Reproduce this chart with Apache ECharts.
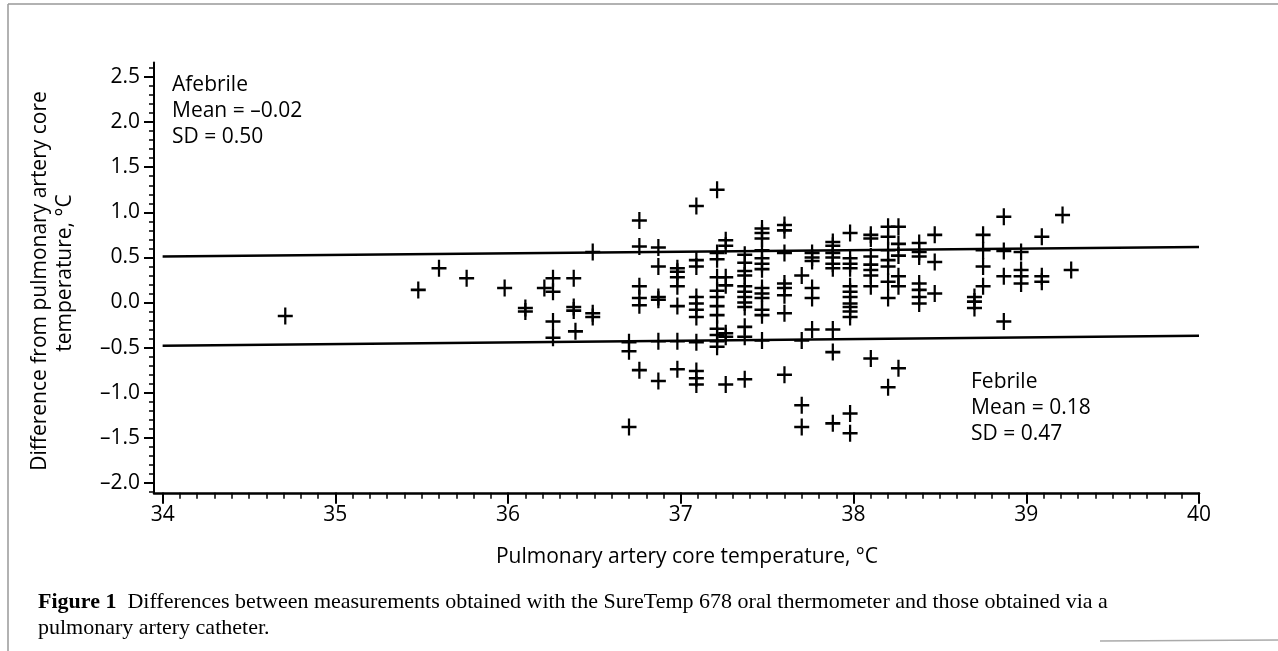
<!DOCTYPE html>
<html><head><meta charset="utf-8">
<script src="https://cdn.jsdelivr.net/npm/echarts@6/dist/echarts.min.js"></script>
<style>html,body{margin:0;padding:0;background:#fff}#c{width:1278px;height:651px}</style>
</head><body><div id="c"></div>
<script>
// ---- data ----
const xTicks = [34, 35, 36, 37, 38, 39, 40];
const xTickLabels = ['34', '35', '36', '37', '38', '39', '40'];
const yTicks = [-2.0, -1.5, -1.0, -0.5, 0.0, 0.5, 1.0, 1.5, 2.0, 2.5];
const yTickLabels = ['–2.0', '–1.5', '–1.0', '–0.5', '0.0', '0.5', '1.0', '1.5', '2.0', '2.5'];

// pulmonary artery temperature of each column of crosses
const colTemp = [34.71, 35.48, 35.60, 35.76, 35.98, 36.10, 36.21, 36.26, 36.38, 36.39, 36.49,
  36.70, 36.76, 36.87, 36.98, 37.09, 37.21, 37.26, 37.37, 37.47, 37.60, 37.70, 37.76, 37.88,
  37.98, 38.10, 38.20, 38.26, 38.38, 38.47, 38.70, 38.75, 38.87, 38.97, 39.09, 39.21, 39.26];
// differences (oral - PA) for each column
const colDiff = [
  [-0.15],
  [0.14],
  [0.38],
  [0.27],
  [0.16],
  [-0.06, -0.10],
  [0.16],
  [0.27, 0.12, -0.21, -0.39],
  [0.27, -0.05, -0.09],
  [-0.32],
  [0.56, -0.12, -0.16],
  [-0.44, -0.54, -1.38],
  [0.91, 0.62, 0.18, 0.05, -0.03, -0.75],
  [0.61, 0.40, 0.06, 0.03, -0.43, -0.87],
  [0.38, 0.34, 0.28, 0.18, -0.04, -0.43, -0.74],
  [1.07, 0.47, 0.40, 0.06, -0.01, -0.08, -0.16, -0.44, -0.76, -0.84, -0.91],
  [1.25, 0.55, 0.48, 0.28, 0.13, 0.06, -0.04, -0.14, -0.29, -0.36, -0.43, -0.49],
  [0.69, 0.63, 0.28, 0.19, -0.34, -0.38, -0.91],
  [0.53, 0.44, 0.35, 0.30, 0.18, 0.12, 0.06, 0.00, -0.05, -0.27, -0.38, -0.85],
  [0.82, 0.77, 0.71, 0.58, 0.49, 0.43, 0.37, 0.16, 0.10, 0.05, -0.08, -0.14, -0.42],
  [0.86, 0.80, 0.55, 0.21, 0.16, 0.08, -0.12, -0.80],
  [0.30, -0.42, -1.14, -1.38],
  [0.55, 0.50, 0.46, 0.16, 0.05, -0.30],
  [0.67, 0.63, 0.55, 0.50, 0.43, 0.38, -0.30, -0.55, -1.34],
  [0.77, 0.49, 0.43, 0.38, 0.18, 0.12, 0.06, -0.01, -0.05, -0.10, -0.16, -1.23, -1.45],
  [0.75, 0.71, 0.51, 0.42, 0.36, 0.30, 0.18, -0.62],
  [0.84, 0.73, 0.58, 0.47, 0.40, 0.23, 0.05, -0.94],
  [0.84, 0.65, 0.52, 0.29, 0.18, -0.73],
  [0.66, 0.56, 0.51, 0.21, 0.14, 0.06, -0.01],
  [0.75, 0.45, 0.10],
  [0.06, 0.01, -0.06],
  [0.75, 0.58, 0.40, 0.18],
  [0.95, 0.57, 0.29, -0.21],
  [0.56, 0.36, 0.29, 0.21],
  [0.73, 0.29, 0.23],
  [0.97],
  [0.36]
];
// limit lines (as drawn on the scanned figure)
const upperLine = [[34, 0.51], [40, 0.615]];
const lowerLine = [[34, -0.48], [40, -0.37]];

// ---- build ----
const points = [];
colTemp.forEach((t, i) => colDiff[i].forEach(d => points.push([t, d])));
const xMinor = []; for (let i = 340; i <= 400; i++) xMinor.push(i / 10);
const yMinor = []; for (let i = -21; i <= 26; i++) yMinor.push(i / 10);

const FONT = 'Open Sans';
const FS = 21;
const crossPath = 'path://M6.8,0h2.4v6.8h6.8v2.4h-6.8v6.8h-2.4v-6.8h-6.8v-2.4h6.8z';
const xMin = 33.95, xMax = 40, yMin = -2.11, yMax = 2.66;
const grid = { left: 154, right: 79, top: 62.6, bottom: 158.2 };

const chart = echarts.init(document.getElementById('c'), null, { renderer: 'canvas' });
chart.setOption({
  backgroundColor: '#fff',
  animation: false,
  grid: [grid],
  xAxis: [
    { type: 'value', min: xMin, max: xMax, position: 'bottom',
      axisLine: { show: true, onZero: false, lineStyle: { color: '#000', width: 2.5 } },
      axisTick: { show: true, customValues: xTicks, length: 11, lineStyle: { color: '#000', width: 2 } },
      axisLabel: { customValues: xTicks, margin: 12, fontSize: FS, color: '#000', fontFamily: FONT,
        formatter: v => { const k = xTicks.findIndex(t => Math.abs(t - v) < 1e-6); return k >= 0 ? xTickLabels[k] : ''; } },
      splitLine: { show: false } },
    { type: 'value', min: xMin, max: xMax, position: 'bottom',
      axisLine: { show: false, onZero: false },
      axisTick: { show: true, customValues: xMinor, length: 6, lineStyle: { color: '#000', width: 1.5 } },
      axisLabel: { show: false }, splitLine: { show: false } }
  ],
  yAxis: [
    { type: 'value', min: yMin, max: yMax, position: 'left',
      axisLine: { show: true, onZero: false, lineStyle: { color: '#000', width: 2 } },
      axisTick: { show: true, customValues: yTicks, length: 10, lineStyle: { color: '#000', width: 2 } },
      axisLabel: { customValues: yTicks, margin: 14, fontSize: FS, color: '#000', fontFamily: FONT,
        formatter: v => { const k = yTicks.findIndex(t => Math.abs(t - v) < 1e-6); return k >= 0 ? yTickLabels[k] : ''; } },
      splitLine: { show: false } },
    { type: 'value', min: yMin, max: yMax, position: 'left',
      axisLine: { show: false, onZero: false },
      axisTick: { show: true, customValues: yMinor, length: 5, lineStyle: { color: '#000', width: 1.5 } },
      axisLabel: { show: false }, splitLine: { show: false } }
  ],
  series: [
    { type: 'line', data: upperLine, symbol: 'none', lineStyle: { color: '#000', width: 2.5 }, z: 2 },
    { type: 'line', data: lowerLine, symbol: 'none', lineStyle: { color: '#000', width: 2.5 }, z: 2 },
    { type: 'scatter', data: points, symbol: crossPath, symbolSize: [15, 17],
      itemStyle: { color: '#000', opacity: 1 }, z: 3 }
  ],
  graphic: [
    { type: 'line', shape: { x1: 8, y1: 4, x2: 8, y2: 651 }, style: { stroke: '#999', lineWidth: 1.5 } },
    { type: 'line', shape: { x1: 8, y1: 4, x2: 1278, y2: 4 }, style: { stroke: '#999', lineWidth: 1.5 } },
    { type: 'line', shape: { x1: 1100, y1: 641, x2: 1278, y2: 640 }, style: { stroke: '#aaa', lineWidth: 1.5 } },
    { type: 'text', x: 172, y: 72, style: { text: 'Afebrile\nMean = –0.02\nSD = 0.50', fontSize: FS, lineHeight: 26, fontFamily: FONT, fill: '#000' } },
    { type: 'text', x: 971, y: 369, style: { text: 'Febrile\nMean = 0.18\nSD = 0.47', fontSize: FS, lineHeight: 26, fontFamily: FONT, fill: '#000' } },
    { type: 'text', x: 40, y: 281, rotation: Math.PI / 2, style: { text: 'Difference from pulmonary artery core', fontSize: FS, fontFamily: FONT, fill: '#000', textAlign: 'center', textVerticalAlign: 'middle' } },
    { type: 'text', x: 65, y: 273, rotation: Math.PI / 2, style: { text: 'temperature, °C', fontSize: FS, fontFamily: FONT, fill: '#000', textAlign: 'center', textVerticalAlign: 'middle' } },
    { type: 'text', x: 687, y: 557, style: { text: 'Pulmonary artery core temperature, °C', fontSize: FS, fontFamily: FONT, fill: '#000', textAlign: 'center', textVerticalAlign: 'middle' } },
    { type: 'text', x: 38, y: 602, style: { text: '{b|Figure 1}  Differences between measurements obtained with the SureTemp 678 oral thermometer and those obtained via a', fontSize: 22, fontFamily: 'Liberation Serif', fill: '#000', textVerticalAlign: 'middle',
      rich: { b: { fontWeight: 'bold', fontSize: 22, fontFamily: 'Liberation Serif', fill: '#000' } } } },
    { type: 'text', x: 38, y: 628, style: { text: 'pulmonary artery catheter.', fontSize: 22, fontFamily: 'Liberation Serif', fill: '#000', textVerticalAlign: 'middle' } }
  ]
});
</script>
</body></html>
